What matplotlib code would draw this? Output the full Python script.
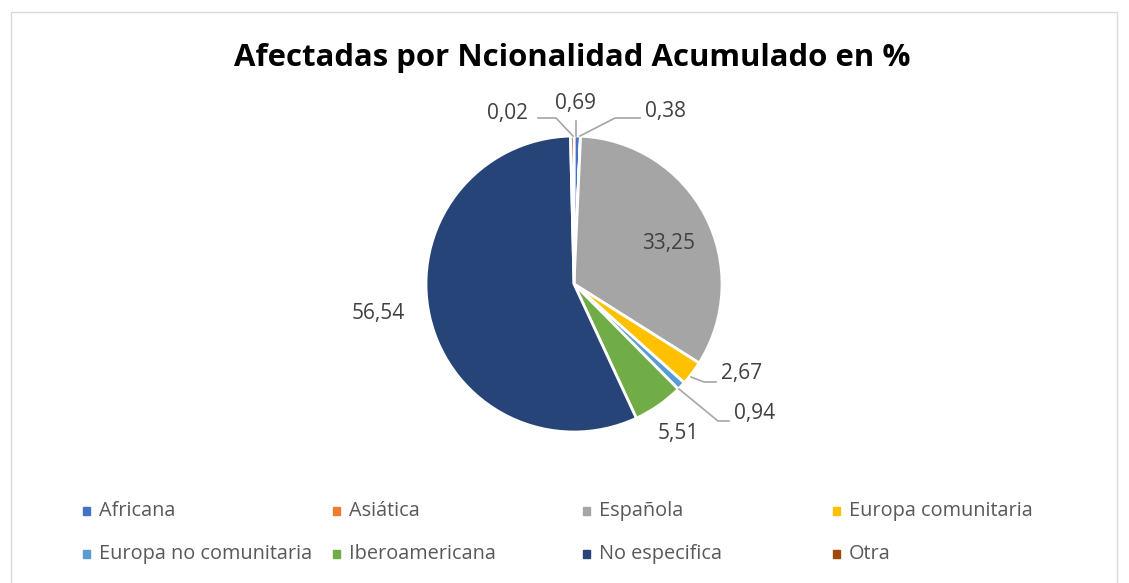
import numpy as np
import matplotlib.pyplot as plt
from matplotlib.patches import Rectangle

categorias = ['Africana', 'Asiática', 'Española', 'Europa comunitaria',
              'Europa no comunitaria', 'Iberoamericana', 'No especifica', 'Otra']
valores = [0.69, 0.02, 33.25, 2.67, 0.94, 5.51, 56.54, 0.38]
colores = ['#4472C4', '#ED7D31', '#A5A5A5', '#FFC000',
           '#5B9BD5', '#70AD47', '#264478', '#9E480E']

W, H = 1129, 583
fig = plt.figure(figsize=(W / 100, H / 100), dpi=100)
ax = fig.add_axes([0, 0, 1, 1])

# marco del gráfico
fig.patches.append(Rectangle((11 / W, -0.05), (1117 - 11) / W, (H - 12) / H + 0.05,
                             transform=fig.transFigure, fill=False,
                             edgecolor='#D9D9D9', linewidth=1))

cx, cy, r = 574, H - 284, 148
wedges, _ = ax.pie(valores, colors=colores, startangle=90, counterclock=False,
                   center=(cx, cy), radius=r, frame=True,
                   wedgeprops=dict(edgecolor='white', linewidth=2))
ax.set_xlim(0, W)
ax.set_ylim(0, H)
ax.set_aspect('equal')
ax.axis('off')

def fmt(v):
    return ('%.2f' % v).replace('.', ',')

# posiciones de las etiquetas (pixeles, y desde arriba) y guías
etq = {
    0: ((576, 104), [(576, 121), (576, 136)]),
    1: ((508, 114), [(538, 118), (556, 118), (573, 136)]),
    7: ((666, 112), [(640, 118), (615, 118), (580, 136)]),
    2: ((669, 243), None),
    3: ((742, 374), [(716, 382), (704, 382), (691, 377)]),
    4: ((755, 414), [(729, 421), (718, 421), (679, 389)]),
    5: ((678, 433), None),
    6: ((378, 313), None),
}
for i, ((x, y), guia) in etq.items():
    ax.text(x, H - y, fmt(valores[i]), ha='center', va='center',
            fontsize=15, color='#404040', family='Open Sans')
    if guia:
        gx = [p[0] for p in guia]
        gy = [H - p[1] for p in guia]
        ax.plot(gx, gy, color='#A6A6A6', linewidth=1.2)

fig.text(572 / W, 1 - 58 / H, 'Afectadas por Ncionalidad Acumulado en %',
         ha='center', va='center', fontsize=22.4, fontweight='bold',
         family='Open Sans', color='black')

# leyenda manual, 4 columnas
for i, (cat, col) in enumerate(zip(categorias, colores)):
    fila, columna = divmod(i, 4)
    x0 = 86 + 250 * columna
    y0 = H - (511 + 43 * fila)
    ax.add_patch(Rectangle((x0 - 3, y0 - 4), 7, 8, color=col, clip_on=False))
    ax.text(x0 + 13, y0, cat, ha='left', va='center', fontsize=14.3,
            color='#595959', family='Open Sans')

fig.savefig('out.png', dpi=100)
